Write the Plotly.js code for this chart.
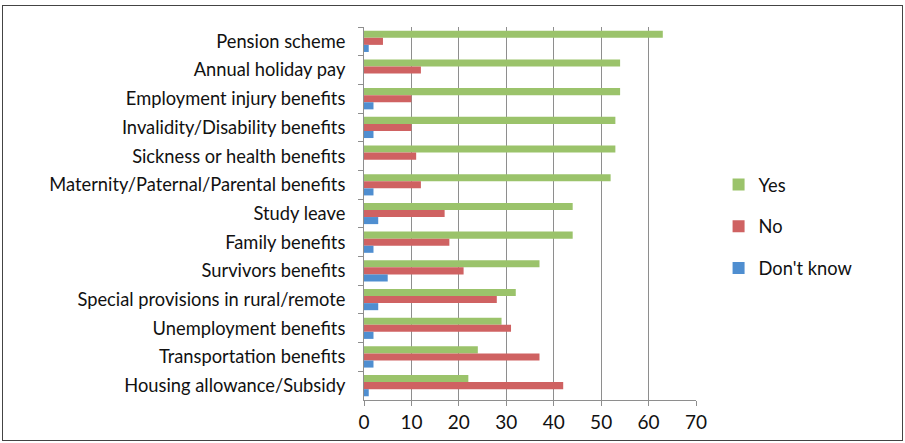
<!DOCTYPE html>
<html>
<head>
<meta charset="utf-8">
<script src="https://cdn.plot.ly/plotly-3.0.1.min.js"></script>
<style>
  html, body { margin: 0; padding: 0; background: #fff; }
  #wrap { position: relative; width: 905px; height: 443px; }
  #chart { width: 905px; height: 443px; }
  #frame { position: absolute; left: 2px; top: 5px; width: 899px; height: 434px; border: 1px solid #444; pointer-events: none; }
</style>
</head>
<body>
<div id="wrap">
  <div id="chart"></div>
  <div id="frame"></div>
</div>
<script>
const categories = [
  "Pension scheme",
  "Annual holiday pay",
  "Employment injury benefits",
  "Invalidity/Disability benefits",
  "Sickness or health benefits",
  "Maternity/Paternal/Parental benefits",
  "Study leave",
  "Family benefits",
  "Survivors benefits",
  "Special provisions in rural/remote",
  "Unemployment benefits",
  "Transportation benefits",
  "Housing allowance/Subsidy"
];
const yesValues      = [63, 54, 54, 53, 53, 52, 44, 44, 37, 32, 29, 24, 22];
const noValues       = [4, 12, 10, 10, 11, 12, 17, 18, 21, 28, 31, 37, 42];
const dontKnowValues = [1, 0, 2, 2, 0, 2, 3, 2, 5, 3, 2, 2, 1];
const xTickValues = [0, 10, 20, 30, 40, 50, 60, 70];

const font = "Lato, sans-serif";

const traces = [
  { name: "Yes", x: yesValues, marker: { color: "#9BC36B" }, legendgroup: "a" },
  { name: "No", x: noValues, marker: { color: "#CF6262" }, legendgroup: "b" },
  { name: "Don't know", x: dontKnowValues, marker: { color: "#4F8ED0" }, legendgroup: "c" }
].map(t => Object.assign({ type: "bar", orientation: "h", y: categories, hoverinfo: "x+name" }, t));

const layout = {
  width: 905, height: 443,
  margin: { l: 364, r: 209, t: 27, b: 43 },
  paper_bgcolor: "#fff", plot_bgcolor: "#fff",
  barmode: "group", bargap: 0.26, bargroupgap: 0,
  font: { family: font, size: 18.3, color: "#111" },
  xaxis: {
    range: [0, 70], tickvals: xTickValues, ticktext: xTickValues.map(String),
    showgrid: true, gridcolor: "#8e8e8e", gridwidth: 1,
    showline: true, linecolor: "#8e8e8e", linewidth: 1,
    ticks: "outside", ticklen: 5, tickcolor: "#8e8e8e",
    zeroline: false, tickfont: { size: 19, family: font, color: "#111" }
  },
  yaxis: {
    type: "category", autorange: "reversed",
    showgrid: false, showline: true, linecolor: "#8e8e8e", linewidth: 1,
    ticks: "outside", ticklen: 5, tickcolor: "#8e8e8e", tickson: "boundaries",
    ticklabelstandoff: 14,
    tickfont: { size: 18.3, family: font, color: "#111" }
  },
  showlegend: true,
  legend: {
    x: 1.068, xanchor: "left", y: 0.465, yanchor: "middle",
    font: { size: 18.3, family: font, color: "#111" },
    tracegroupgap: 15, itemwidth: 30, bgcolor: "rgba(0,0,0,0)"
  }
};

Plotly.newPlot("chart", traces, layout, { displayModeBar: false, staticPlot: true });
</script>
</body>
</html>
